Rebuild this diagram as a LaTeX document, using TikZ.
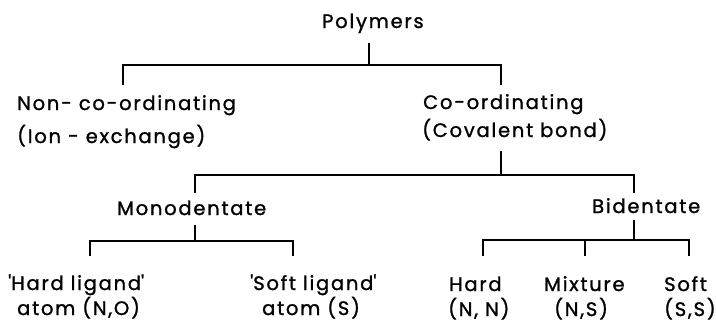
\documentclass[tikz,border=0pt]{standalone}
\usepackage{fontspec}
\setmainfont[LetterSpace=9,FakeBold=1.2]{Poppins}
\begin{document}
\begin{tikzpicture}[x=1pt,y=-1pt,
  lbl/.style={inner sep=0pt,anchor=base west,font=\fontsize{19.5}{22}\selectfont},
  conn/.style={line width=1.8pt,line cap=butt}]
\useasboundingbox (0,0) rectangle (716,325);
% texts
\node[lbl] (poly) at (322,28) {Polymers};
\node[lbl] (non) at (17,110) {Non- co-ordinating};
\node[lbl] (ion) at (17,143) {(Ion - exchange)};
\node[lbl] (coord) at (423,109) {Co-ordinating};
\node[lbl] (cov) at (422,137) {(Covalent bond)};
\node[lbl] (mono) at (117,215) {Monodentate};
\node[lbl] (bi) at (592,213) {Bidentate};
\node[lbl] (hl) at (8,290) {\textquotesingle Hard ligand\textquotesingle};
\node[lbl] (hl2) at (17,315) {atom (N,O)};
\node[lbl] (sl) at (250,290) {\textquotesingle Soft ligand\textquotesingle};
\node[lbl] (sl2) at (262,315) {atom (S)};
\node[lbl] (hd) at (449,291) {Hard};
\node[lbl] (hd2) at (448,316) {(N, N)};
\node[lbl] (mx) at (544,291) {Mixture};
\node[lbl] (mx2) at (554,316) {(N,S)};
\node[lbl] (sf) at (664,291) {Soft};
\node[lbl] (sf2) at (664,316) {(S,S)};
% junction coordinates
\coordinate (p0) at (369,43);  \coordinate (p1) at (369,65);
\coordinate (a0) at (123,85);  \coordinate (a1) at (123,65);
\coordinate (b0) at (501,85);  \coordinate (b1) at (501,65);
\coordinate (q0) at (501,151); \coordinate (q1) at (501,175);
\coordinate (m0) at (195,193); \coordinate (m1) at (195,175);
\coordinate (d0) at (634,193); \coordinate (d1) at (634,175);
\coordinate (r0) at (195,225); \coordinate (r1) at (195,241);
\coordinate (h0) at (90,256);  \coordinate (h1) at (90,241);
\coordinate (s0) at (293,256); \coordinate (s1) at (293,241);
\coordinate (e0) at (634,220); \coordinate (e1) at (634,240);
\coordinate (k0) at (483,256); \coordinate (k1) at (483,240);
\coordinate (x0) at (585,256); \coordinate (x1) at (585,240);
\coordinate (f0) at (689,256); \coordinate (f1) at (689,240);
% connectors
\draw[conn] (p0) -- (p1);
\draw[conn] (a0) -- (a1) -- (b1) -- (b0);
\draw[conn] (q0) -- (q1);
\draw[conn] (m0) -- (m1) -- (d1) -- (d0);
\draw[conn] (r0) -- (r1);
\draw[conn] (h0) -- (h1) -- (s1) -- (s0);
\draw[conn] (e0) -- (e1);
\draw[conn] (k0) -- (k1) -- (f1) -- (f0);
\draw[conn] (x0) -- (x1);
\end{tikzpicture}
\end{document}
